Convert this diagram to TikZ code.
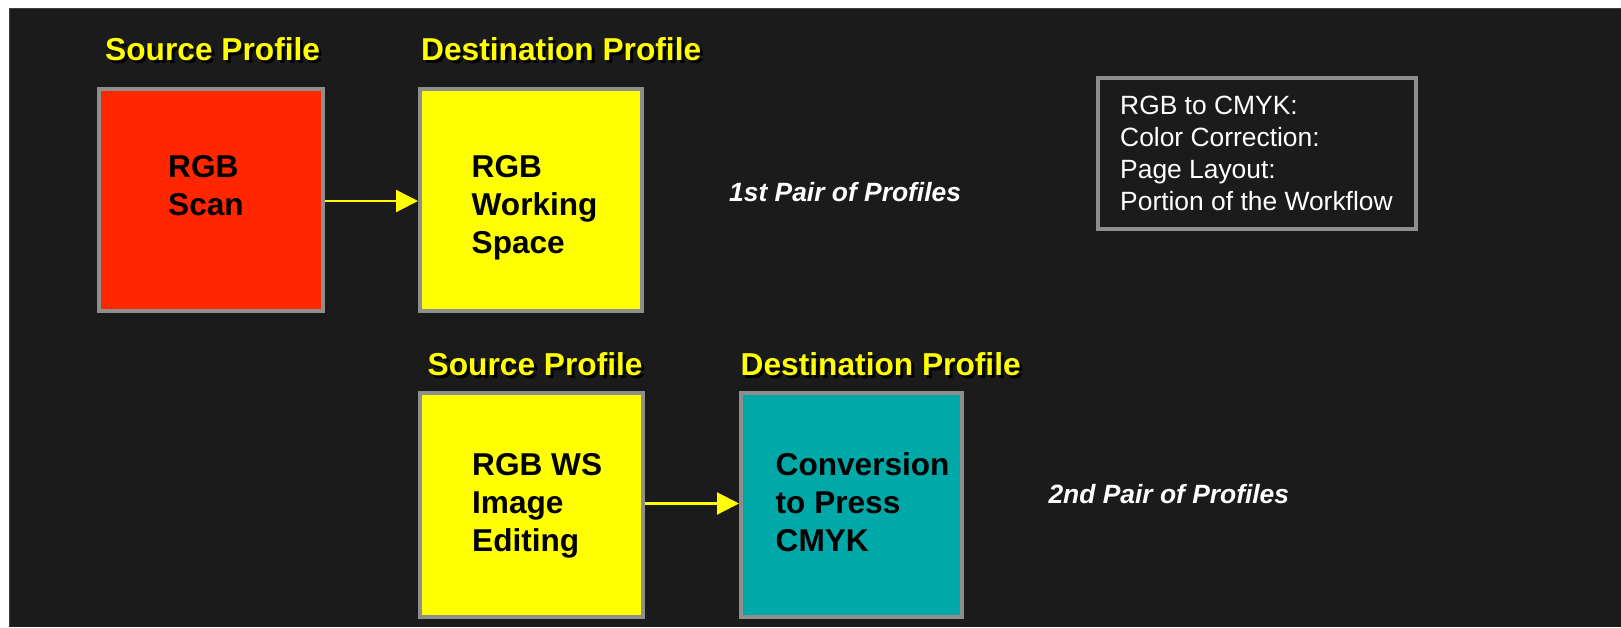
\documentclass[tikz,border=0pt]{standalone}
\usepackage{fontspec}
\setmainfont{Liberation Sans}
\usetikzlibrary{arrows.meta}
\definecolor{bgdark}{HTML}{1B1B1B}
\definecolor{boxgray}{HTML}{8E8E8E}
\definecolor{scanred}{HTML}{FF2600}
\definecolor{wsyellow}{HTML}{FFFF00}
\definecolor{pressteal}{HTML}{00A8A8}
\newcommand\mystack[1]{\begin{tabular}[t]{@{}l@{}}#1\end{tabular}}
\tikzset{
  box/.style={draw=boxgray, line width=4pt, rectangle, inner sep=0pt},
  ttl/.style={font=\fontsize{31.7}{38}\selectfont\bfseries, inner sep=0pt, anchor=base west, text=wsyellow},
  ttlshadow/.style={ttl, text=black},
  boxtext/.style={font=\fontsize{31.6}{38}\selectfont\bfseries, inner sep=0pt, anchor=base west, text=black},
  pairlabel/.style={font=\fontsize{26.4}{32}\selectfont\bfseries\itshape, inner sep=0pt, anchor=base west, text=white},
  infotext/.style={font=\fontsize{26.4}{32}\selectfont, inner sep=0pt, anchor=base west, text=white},
  flow/.style={draw=wsyellow, line width=2.2pt, -{Triangle[length=22pt,width=22pt]}}
}
\begin{document}
\begin{tikzpicture}[x=1pt,y=-1pt]
\useasboundingbox (0,0) rectangle (1621,627);
\fill[white] (0,0) rectangle (1621,627);
\fill[bgdark] (9,8) rectangle (1621,627);
\draw[black!75, line width=1pt] (9.5,627) -- (9.5,8.5) -- (1621,8.5);

% boxes
\node[box, fill=scanred, minimum width=224pt, minimum height=222pt] (scan) at (211,200) {};
\node[box, fill=wsyellow, minimum width=222pt, minimum height=222pt] (ws) at (531,200) {};
\node[box, fill=wsyellow, minimum width=223pt, minimum height=224pt] (edit) at (531.5,505) {};
\node[box, fill=pressteal, minimum width=221pt, minimum height=224pt] (press) at (851.5,505) {};
\node[box, fill=bgdark, minimum width=318pt, minimum height=151pt] (info) at (1257,153.5) {};

% titles with shadow
\node[ttlshadow] (t1s) at (108,63) {Source Profile};
\node[ttl] (t1) at (105,60) {Source Profile};
\node[ttlshadow] (t2s) at (424,63) {Destination Profile};
\node[ttl] (t2) at (421,60) {Destination Profile};
\node[ttlshadow] (t3s) at (430.5,378) {Source Profile};
\node[ttl] (t3) at (427.5,375) {Source Profile};
\node[ttlshadow] (t4s) at (743.5,378) {Destination Profile};
\node[ttl] (t4) at (740.5,375) {Destination Profile};

% box texts
\node[boxtext] (scantxt) at (168,177) {\mystack{RGB\\Scan}};
\node[boxtext] (wstxt) at (471.5,177) {\mystack{RGB\\Working\\Space}};
\node[boxtext] (edittxt) at (472,475) {\mystack{RGB WS\\Image\\Editing}};
\node[boxtext] (presstxt) at (775.5,475) {\mystack{Conversion\\to Press\\CMYK}};

% pair labels
\node[pairlabel] (pair1) at (729,201) {1st Pair of Profiles};
\node[pairlabel] (pair2) at (1048.3,503) {2nd Pair of Profiles};

% info text
\node[infotext] (infotxt) at (1120,114) {\mystack{RGB to CMYK:\\Color Correction:\\Page Layout:\\Portion of the Workflow}};

% connectors
\draw[flow] (scan.east |- 0,201) -- (ws.west |- 0,201);
\draw[flow] (edit.east |- 0,503.5) -- (press.west |- 0,503.5);
\end{tikzpicture}
\end{document}
